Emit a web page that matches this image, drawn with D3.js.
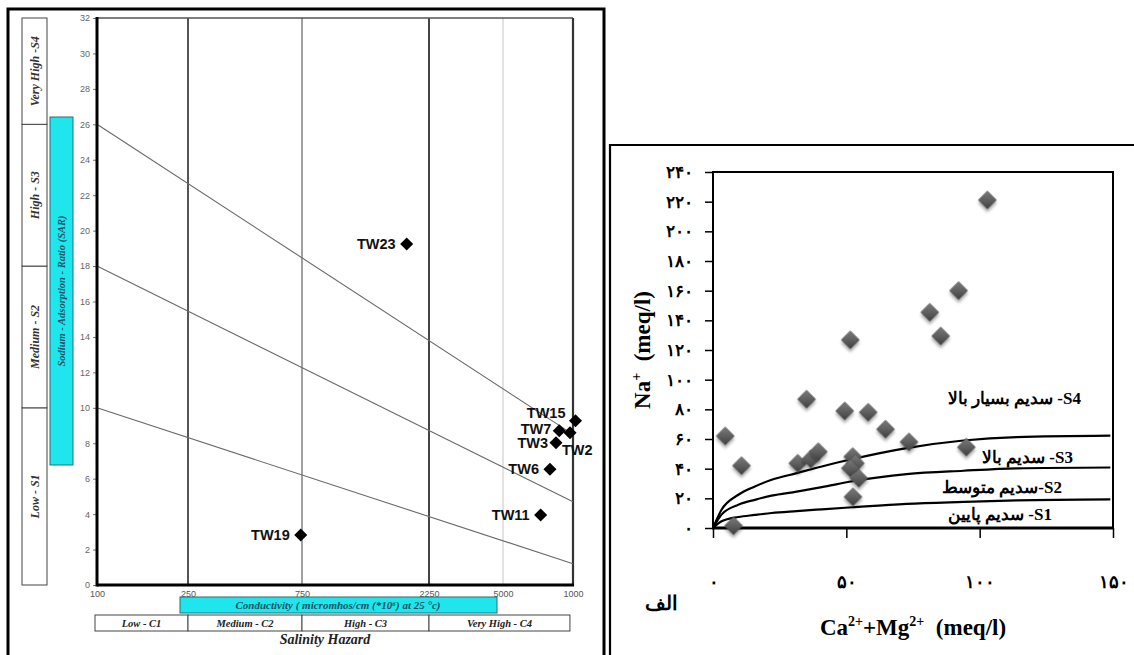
<!DOCTYPE html>
<html>
<head>
<meta charset="utf-8">
<script src="https://cdn.jsdelivr.net/npm/d3@7"></script>
<style>
  body { margin: 0; background: #fff; }
  svg { display: block; }
</style>
</head>
<body>
<script>
// ---------- left diagram: SAR vs conductivity (salinity hazard)
var condTicks = [100, 250, 750, 2250, 5000, 10000];
var condTickLabels = ["100", "250", "750", "2250", "5000", "1000"];
var sarTicks = d3.range(0, 33, 2);
var sarClassNames = ["Low - S1", "Medium - S2", "High - S3", "Very High -S4"];
var sarClassBreaks = [0, 10, 18, 26, 32];
var salinityClassNames = ["Low - C1", "Medium - C2", "High - C3", "Very High - C4"];
var salinityBreaks = [100, 250, 750, 2250, 9700];
var hazardLineStart = [10, 18, 26];   // SAR at 100
var hazardLineEnd = [1.2, 4.7, 8.5];  // SAR at 10000
var wells = ["TW23", "TW19", "TW11", "TW6", "TW3", "TW7", "TW2", "TW15"];
var wellEC = [1855, 741, 7260, 7960, 8450, 8730, 9710, 10250];
var wellSAR = [19.24, 2.82, 3.95, 6.53, 8.03, 8.70, 8.59, 9.27];

// ---------- right diagram: Na vs Ca+Mg
var naTicks = d3.range(0, 241, 20);
var caMgTicks = [0, 50, 100, 150];
var caMg = [4.6, 10.7, 7.7, 31.8, 36.7, 39.5, 35.1, 49.4, 58.2, 64.7, 73.5, 95, 52.4, 53.4, 51.5, 54.7, 52.5, 51.5, 85.4, 81.3, 92.1, 102.9];
var na   = [62, 42, 1.5, 43.6, 46.5, 51.4, 86.8, 78.9, 78, 66.6, 58, 54.5, 48.1, 43.6, 40.3, 33.5, 21, 126.8, 129.4, 145.4, 160, 221.1];
var curveX = [0, 3.2, 9.5, 15.7, 22, 31.4, 40.8, 52.3, 72.6, 93.9, 113.9, 149];
var curveS34 = [0, 12.3, 22.4, 28, 32.5, 37, 41.5, 46.5, 53.9, 59, 61.3, 62.3];
var curveS23 = [0, 9, 15.7, 19, 21.8, 24.5, 27.5, 31.5, 36.3, 38.6, 40.2, 40.8];
var curveS12 = [0, 4.5, 7.4, 8.8, 10.1, 11.4, 12.6, 14, 16.3, 17.6, 18.6, 19.3];
var curveLabels = ["S1- سدیم پایین", "S2-سدیم متوسط", "S3- سدیم بالا", "S4- سدیم بسیار بالا"];

var serif = "'Liberation Serif','Times New Roman',serif";
var sans = "'Liberation Sans',Arial,sans-serif";
var fa = function(v){ return String(v).replace(/\d/g, function(c){ return "۰۱۲۳۴۵۶۷۸۹"[+c]; }); };

var svg = d3.select("body").append("svg").attr("width", 1134).attr("height", 655);
svg.append("rect").attr("width", 1134).attr("height", 655).attr("fill", "#fff");

var defs = svg.append("defs");
var grad = defs.append("linearGradient").attr("id", "dg").attr("x1", 0).attr("y1", 0).attr("x2", 1).attr("y2", 1);
grad.append("stop").attr("offset", "0%").attr("stop-color", "#7a7a7a");
grad.append("stop").attr("offset", "55%").attr("stop-color", "#5c5c5c");
grad.append("stop").attr("offset", "100%").attr("stop-color", "#3e3e3e");
defs.append("filter").attr("id", "sh").attr("x", "-50%").attr("y", "-50%").attr("width", "200%").attr("height", "200%")
  .append("feDropShadow").attr("dx", 2).attr("dy", 2).attr("stdDeviation", 1.5)
  .attr("flood-color", "#000").attr("flood-opacity", 0.35);

// ================= LEFT =================
var L = svg.append("g");

// outer frame of the left figure
L.append("path").attr("d", "M8,655V9H604V655").attr("fill", "none").attr("stroke", "#000").attr("stroke-width", 3);

var xl = d3.scaleLinear().domain(condTicks.map(Math.log10)).range([97, 188, 302, 429, 503, 573]);
var ex = function(v){ return xl(Math.log10(v)); };
var yl = d3.scaleLinear().domain([0, 32]).range([585, 18]);

// verticals at class limits
var vStyle = { 250: ["#555", 2], 750: ["#8a8a8a", 1.6], 2250: ["#444", 2], 5000: ["#cfcfcf", 1.2] };
[250, 750, 2250, 5000].forEach(function(v){
  L.append("line").attr("x1", ex(v)).attr("x2", ex(v)).attr("y1", yl(32)).attr("y2", yl(0))
    .attr("stroke", vStyle[v][0]).attr("stroke-width", vStyle[v][1]);
});
L.append("line").attr("x1", ex(100)).attr("x2", ex(10000)).attr("y1", yl(32)).attr("y2", yl(32))
  .attr("stroke", "#555").attr("stroke-width", 1.5);
L.append("line").attr("x1", ex(10000)).attr("x2", ex(10000)).attr("y1", yl(32)).attr("y2", yl(0))
  .attr("stroke", "#333").attr("stroke-width", 2.2);

// sodium hazard lines
var lineL = d3.line().x(function(d){ return ex(d[0]); }).y(function(d){ return yl(d[1]); });
hazardLineStart.forEach(function(s, i){
  L.append("path").attr("d", lineL([[100, s], [10000, hazardLineEnd[i]]]))
    .attr("fill", "none").attr("stroke", "#6a6a6a").attr("stroke-width", 1.1);
});

// axes
L.append("g").attr("transform", "translate(" + ex(100) + ",0)")
  .call(d3.axisLeft(yl).tickValues(sarTicks).tickSize(4).tickPadding(3))
  .call(function(g){
    g.select(".domain").remove();
    g.selectAll("line").attr("stroke", "#777");
    g.selectAll("text").attr("font-family", sans).attr("font-size", 9).attr("fill", "#666");
  });
L.append("g").attr("transform", "translate(0," + yl(0) + ")")
  .call(d3.axisBottom(xl).tickValues(condTicks.map(Math.log10)).tickSize(0).tickPadding(6)
    .tickFormat(function(d, i){ return condTickLabels[i]; }))
  .call(function(g){
    g.select(".domain").remove();
    g.selectAll("text").attr("font-family", sans).attr("font-size", 9).attr("fill", "#555");
  });
L.append("line").attr("x1", ex(100)).attr("x2", ex(100)).attr("y1", yl(32) - 1).attr("y2", yl(0) + 1.5)
  .attr("stroke", "#000").attr("stroke-width", 3);
L.append("line").attr("x1", ex(100)).attr("x2", ex(10000) + 1).attr("y1", yl(0)).attr("y2", yl(0))
  .attr("stroke", "#000").attr("stroke-width", 3);

// wells
var sym = d3.symbol().type(d3.symbolSquare);
wells.forEach(function(w, i){
  var px = ex(wellEC[i]), py = yl(wellSAR[i]);
  L.append("path").attr("d", sym.size(85)()).attr("fill", "#000")
    .attr("transform", "translate(" + px + "," + py + ") rotate(45)");
  var t = L.append("text").attr("font-family", sans).attr("font-weight", "bold")
    .attr("font-size", 14.5).attr("fill", "#111").text(w);
  if (w == "TW2") t.attr("x", px - 8).attr("y", py + 22);
  else if (w == "TW15") t.attr("x", px - 10).attr("y", py - 3).attr("text-anchor", "end");
  else if (w == "TW7") t.attr("x", px - 8).attr("y", py + 3).attr("text-anchor", "end");
  else if (w == "TW3") t.attr("x", px - 8).attr("y", py + 5.5).attr("text-anchor", "end");
  else t.attr("x", px - 11).attr("y", py + 5).attr("text-anchor", "end");
});

// SAR class column
sarClassNames.forEach(function(n, i){
  var y0 = yl(sarClassBreaks[i + 1]), y1 = yl(sarClassBreaks[i]);
  L.append("rect").attr("x", 22).attr("y", y0).attr("width", 25).attr("height", y1 - y0)
    .attr("fill", "#fff").attr("stroke", "#444").attr("stroke-width", 1);
  L.append("text").attr("transform", "translate(38.5," + (y0 + y1) / 2 + ") rotate(-90)")
    .attr("text-anchor", "middle").attr("font-family", serif).attr("font-style", "italic")
    .attr("font-weight", "bold").attr("font-size", 12).attr("fill", "#333").text(n);
});
L.append("rect").attr("x", 50).attr("y", 117).attr("width", 23).attr("height", 348)
  .attr("fill", "#1ee6ec").attr("stroke", "#2a6d75").attr("stroke-width", 1);
L.append("text").attr("transform", "translate(65,291) rotate(-90)").attr("text-anchor", "middle")
  .attr("font-family", serif).attr("font-style", "italic").attr("font-weight", "bold")
  .attr("font-size", 10.5).attr("fill", "#1d4f63").text("Sodium - Adsorption - Ratio (SAR)");

// conductivity / salinity hazard bars
L.append("rect").attr("x", 180).attr("y", 597).attr("width", 317).attr("height", 16)
  .attr("fill", "#1ee6ec").attr("stroke", "#2a6d75").attr("stroke-width", 1);
L.append("text").attr("x", 338).attr("y", 609).attr("text-anchor", "middle")
  .attr("font-family", serif).attr("font-style", "italic").attr("font-weight", "bold")
  .attr("font-size", 11).attr("fill", "#1d4f63").text("Conductivity ( micromhos/cm (*10⁶) at 25 °c)");
salinityClassNames.forEach(function(n, i){
  var x0 = ex(salinityBreaks[i]) - (i == 0 ? 2 : 0), x1 = ex(salinityBreaks[i + 1]);
  L.append("rect").attr("x", x0).attr("y", 615).attr("width", x1 - x0).attr("height", 16)
    .attr("fill", "#fff").attr("stroke", "#444").attr("stroke-width", 1);
  L.append("text").attr("x", (x0 + x1) / 2).attr("y", 626.5).attr("text-anchor", "middle")
    .attr("font-family", serif).attr("font-style", "italic").attr("font-weight", "bold")
    .attr("font-size", 10.5).attr("fill", "#222").text(n);
});
L.append("text").attr("x", 325).attr("y", 644).attr("text-anchor", "middle")
  .attr("font-family", serif).attr("font-style", "italic").attr("font-weight", "bold")
  .attr("font-size", 14).attr("fill", "#222").text("Salinity  Hazard");

// ================= RIGHT =================
var R = svg.append("g");
R.append("path").attr("d", "M610,655V145H1134").attr("fill", "none").attr("stroke", "#000").attr("stroke-width", 2.2);

var xr = d3.scaleLinear().domain([0, 150]).range([713, 1113]);
var yr = d3.scaleLinear().domain([0, 240]).range([528, 172]);

R.append("rect").attr("x", xr(0)).attr("y", yr(240)).attr("width", xr(150) - xr(0)).attr("height", yr(0) - yr(240))
  .attr("fill", "none").attr("stroke", "#000").attr("stroke-width", 2);

R.append("g").attr("transform", "translate(" + xr(0) + ",0)")
  .call(d3.axisLeft(yr).tickValues(naTicks).tickSize(8).tickPadding(12).tickFormat(fa))
  .call(function(g){
    g.select(".domain").remove();
    g.selectAll("line").attr("stroke", "#000").attr("stroke-width", 1.5);
    g.selectAll("text").attr("font-family", serif).attr("font-weight", "bold").attr("font-size", 17).attr("fill", "#000");
  });
R.append("g").attr("transform", "translate(0," + yr(0) + ")")
  .call(d3.axisBottom(xr).tickValues(caMgTicks).tickSize(10).tickPadding(37).tickFormat(fa))
  .call(function(g){
    g.select(".domain").remove();
    g.selectAll("line").attr("stroke", "#000").attr("stroke-width", 1.5);
    g.selectAll("text").attr("font-family", serif).attr("font-weight", "bold").attr("font-size", 18).attr("fill", "#000");
  });
R.append("line").attr("x1", xr(0) - 1).attr("x2", xr(150) + 1).attr("y1", yr(0)).attr("y2", yr(0))
  .attr("stroke", "#000").attr("stroke-width", 3);

// class curves
var lineR = d3.line().x(function(d){ return xr(d[0]); }).y(function(d){ return yr(d[1]); }).curve(d3.curveMonotoneX);
[curveS12, curveS23, curveS34].forEach(function(c){
  R.append("path").attr("d", lineR(curveX.map(function(x, i){ return [x, c[i]]; })))
    .attr("fill", "none").attr("stroke", "#000").attr("stroke-width", 2.2);
});

// samples
caMg.forEach(function(x, i){
  R.append("path").attr("d", sym.size(160)()).attr("fill", "url(#dg)").attr("filter", "url(#sh)")
    .attr("stroke", "#4a4a4a").attr("stroke-width", 0.5)
    .attr("transform", "translate(" + xr(x) + "," + yr(na[i]) + ") rotate(45)");
});

// curve labels (rtl, right edge given)
var labelRight = [1052, 1062, 1073, 1081];
var labelBase = [520, 493, 463, 404];
curveLabels.forEach(function(t, i){
  R.append("text").attr("x", labelRight[i]).attr("y", labelBase[i])
    .attr("direction", "rtl").attr("text-anchor", "start")
    .attr("font-family", serif).attr("font-size", 17).attr("font-weight", "bold")
    .attr("fill", "#000").text(t);
});

// titles
var xt = R.append("text").attr("x", 913).attr("y", 635).attr("text-anchor", "middle")
  .attr("font-family", serif).attr("font-weight", "bold").attr("font-size", 23).attr("fill", "#000");
xt.append("tspan").text("Ca");
xt.append("tspan").attr("dy", -9).attr("font-size", 14).text("2+");
xt.append("tspan").attr("dy", 9).text("+Mg");
xt.append("tspan").attr("dy", -9).attr("font-size", 14).text("2+");
xt.append("tspan").attr("dy", 9).text("\u00a0 (meq/l)");

var yt = R.append("text").attr("transform", "translate(650,350) rotate(-90)").attr("text-anchor", "middle")
  .attr("font-family", serif).attr("font-weight", "bold").attr("font-size", 23).attr("fill", "#000");
yt.append("tspan").text("Na");
yt.append("tspan").attr("dy", -9).attr("font-size", 14).text("+");
yt.append("tspan").attr("dy", 9).text("\u00a0 (meq/l)");

R.append("text").attr("x", 661).attr("y", 610).attr("text-anchor", "middle")
  .attr("font-family", serif).attr("font-weight", "bold").attr("font-size", 20).attr("fill", "#000").text("الف");
</script>
</body>
</html>
